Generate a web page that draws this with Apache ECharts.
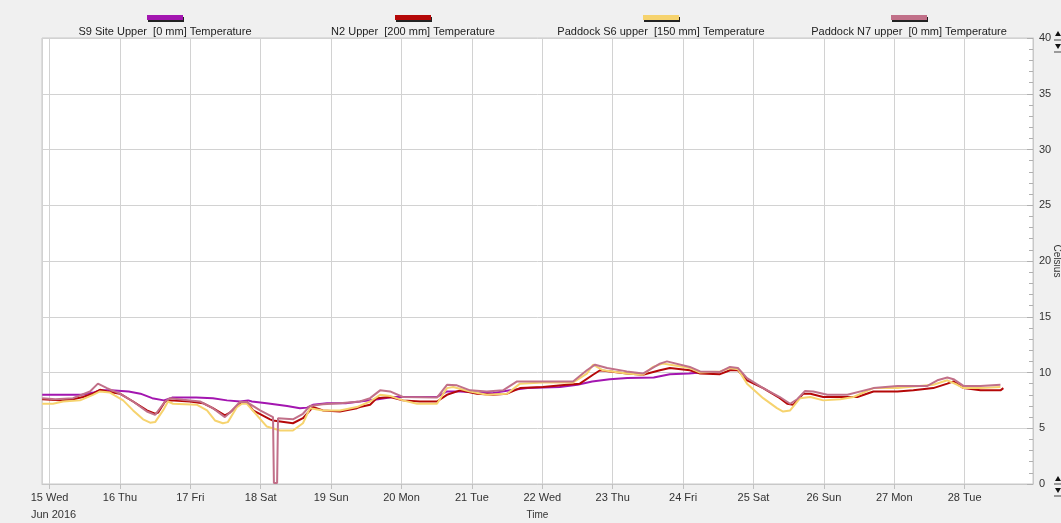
<!DOCTYPE html>
<html>
<head>
<meta charset="utf-8">
<script src="https://cdn.jsdelivr.net/npm/echarts@6/dist/echarts.min.js"></script>
<style>
html,body{margin:0;padding:0;background:#f0f0f0;}
#chart{width:1061px;height:523px;}
</style>
</head>
<body>
<div id="chart"></div>
<script>
// ---- data (hours from 15 Jun 2016 00:00, Celsius) ----
const seriesNames = [
  'S9 Site Upper  [0 mm] Temperature',
  'N2 Upper  [200 mm] Temperature',
  'Paddock S6 upper  [150 mm] Temperature',
  'Paddock N7 upper  [0 mm] Temperature'
];
const dayNames = ['Sun','Mon','Tue','Wed','Thu','Fri','Sat'];
const firstTickSubLabel = 'Jun 2016';

const s9 = [[-2.5,8.0],[3,8.0],[11,8.0],[15,8.2],[17,8.4],[21,8.4],[27,8.3],[31,8.1],[35,7.7],[39,7.5],[41.8,7.75],[50,7.75],[55.7,7.7],[60.5,7.5],[65,7.4],[67.7,7.5],[69,7.4],[74,7.25],[81,7.0],[85.4,6.8],[87.8,6.85],[89.8,7.1],[94.6,7.25],[101,7.25],[105.8,7.4],[112,7.6],[117,7.8],[122,7.8],[132,7.8],[135.5,8.3],[140,8.3],[146,8.2],[151,8.15],[157,8.4],[163,8.6],[174,8.7],[180,8.9],[185,9.2],[191,9.4],[197,9.5],[206,9.55],[211.5,9.85],[218,9.9],[222,10.0]];

const n2 = [[-2.5,7.6],[3.6,7.5],[8,7.6],[11.4,7.8],[14.8,8.1],[17.2,8.45],[19.6,8.3],[24,8.1],[28.5,7.4],[33.2,6.6],[36,6.3],[37,6.4],[39.4,7.4],[41.1,7.5],[47.9,7.4],[52.3,7.25],[55.7,6.8],[59.8,6.15],[61.5,6.4],[64.9,7.25],[67.3,7.35],[69.4,6.6],[75.2,5.8],[76.2,5.7],[83,5.45],[86.4,5.9],[89.8,6.9],[93.2,6.6],[99,6.5],[104.8,6.8],[105.8,6.9],[109.3,7.1],[111.6,7.7],[116.1,7.8],[120.5,7.5],[126.3,7.4],[132.1,7.4],[135.5,8.0],[140,8.4],[145.7,8.1],[151.2,8.0],[156,8.1],[160.4,8.6],[168.2,8.7],[176.4,8.9],[180.8,9.0],[185.3,9.8],[187.7,10.2],[191.1,10.1],[196.8,9.9],[202.3,9.8],[208.1,10.2],[211.5,10.4],[218.3,10.2],[221.8,9.9],[228.6,9.85],[232,10.2],[234.7,10.2],[237.8,9.3],[243.3,8.6],[249,7.7],[251.5,7.2],[253.5,7.1],[257,8.1],[259.4,8.1],[263.8,7.8],[269.6,7.8],[275.4,7.8],[280.9,8.3],[289.1,8.3],[294.5,8.4],[301.3,8.6],[306.1,9.0],[308.2,9.2],[311.6,8.6],[317.4,8.4],[324.2,8.4],[325.2,8.6]];

const s6 = [[-2.5,7.2],[1.2,7.2],[4.6,7.4],[10.4,7.5],[14.8,8.0],[17.2,8.3],[20.6,8.2],[25.1,7.5],[28.5,6.6],[31.9,5.8],[34.3,5.5],[36,5.55],[38.7,6.6],[40.4,7.4],[42.1,7.2],[50.3,7.1],[53.7,6.6],[56.4,5.7],[59.1,5.45],[60.8,5.55],[63.9,6.9],[65.6,7.2],[67.3,7.2],[74.1,5.15],[78.6,4.8],[83,4.8],[86.4,5.45],[88.8,6.8],[93.2,6.6],[99,6.6],[104.8,6.9],[109.3,7.4],[112.7,8.0],[116.1,7.9],[120.5,7.5],[125.3,7.2],[132.1,7.2],[135.5,8.6],[137.6,8.7],[143.4,8.3],[149.1,8.0],[156,8.1],[160.4,9.0],[168.2,9.1],[178.5,9.1],[183.2,9.9],[185.3,10.7],[188.7,10.2],[196.8,9.9],[202.3,9.8],[205.7,10.5],[209.1,10.8],[218.3,10.4],[221.8,10.0],[228.6,10.1],[232,10.4],[234.7,10.3],[237.8,9.0],[243.3,7.7],[248,6.8],[250.1,6.5],[252.5,6.6],[255.9,7.7],[259.4,7.8],[263.8,7.5],[269.6,7.6],[274.1,7.8],[280.9,8.6],[289.1,8.6],[301.3,8.9],[306.1,9.3],[309.5,8.9],[311.6,8.6],[317.4,8.6],[324.2,8.7]];

const n7 = [[-2.5,7.7],[2,7.6],[8,7.7],[13.8,8.3],[16.5,9.0],[19.6,8.6],[24,8.1],[28.5,7.4],[33.2,6.5],[36,6.2],[39.4,7.4],[41.1,7.7],[45.5,7.55],[51.3,7.4],[55.7,6.8],[59.8,6.0],[62.2,6.6],[64.9,7.35],[67.3,7.35],[71.8,6.6],[76.2,6.0],[76.5,0.1],[77.6,0.1],[77.9,5.9],[83,5.8],[86.4,6.3],[88.8,7.0],[93.2,7.15],[99,7.25],[105.8,7.4],[109.3,7.7],[112.7,8.4],[116.1,8.3],[120.5,7.8],[132.1,7.75],[135.5,8.9],[138.9,8.85],[143.4,8.4],[149.1,8.3],[154.6,8.4],[159.4,9.2],[178.5,9.2],[183.2,10.2],[186,10.7],[190.1,10.4],[196.8,10.1],[202.3,9.9],[208.1,10.8],[210.5,11.0],[218.3,10.5],[221.8,10.1],[228.6,10.05],[232,10.5],[234.7,10.4],[237.8,9.5],[243.3,8.6],[249,7.8],[252.5,7.2],[254.9,7.6],[257.6,8.35],[260.4,8.3],[265.2,8.0],[272,8.0],[280.9,8.6],[289.1,8.8],[299.3,8.8],[302.7,9.3],[306.1,9.55],[308.2,9.4],[311.6,8.8],[317.4,8.8],[324.2,8.9]];

const yTicks = {min: 0, max: 40, interval: 5};

// ---- build ----
const BASE = new Date(2016, 5, 15).getTime();
const H = 3600000;
const toTime = arr => arr.map(p => [BASE + p[0] * H, p[1]]);
const colors = ['#a316b0', '#b50808', '#f6d36e', '#c17089'];
const allData = [s9, n2, s6, n7];

const rich = {
  t: {width: 240, align: 'center', lineHeight: 16, fontSize: 11, color: '#222', fontFamily: 'Liberation Sans'}
};
colors.forEach((c, i) => {
  rich['b' + i] = {width: 36, height: 5, lineHeight: 12, align: 'center', backgroundColor: c,
    shadowColor: '#222', shadowOffsetX: 1, shadowOffsetY: 2, shadowBlur: 0, fontSize: 1};
});

// scroll-arrow decorations at the right edge
function tri(x, y, up) {
  return {type: 'polygon', silent: true,
    shape: {points: up ? [[x - 3, y + 3], [x + 3, y + 3], [x, y - 2]] : [[x - 3, y - 2], [x + 3, y - 2], [x, y + 3]]},
    style: {fill: '#111'}};
}
function dash(x, y) {
  return {type: 'line', silent: true, shape: {x1: x - 4, y1: y, x2: x + 4, y2: y}, style: {stroke: '#444', lineWidth: 1}};
}

const chart = echarts.init(document.getElementById('chart'));
chart.setOption({
  backgroundColor: '#f0f0f0',
  animation: false,
  textStyle: {fontFamily: 'Liberation Sans'},
  legend: {
    top: 15, left: 40, padding: 0, itemGap: 3,
    itemWidth: 0, itemHeight: 0, icon: 'rect',
    selectedMode: false,
    data: seriesNames,
    formatter: name => '{b' + seriesNames.indexOf(name) + '| }\n{t|' + name + '}',
    textStyle: {rich: rich}
  },
  graphic: [tri(1058, 33, true), dash(1058, 40), tri(1058, 46, false), dash(1058, 52),
            tri(1058, 478, true), dash(1058, 484), tri(1058, 490, false), dash(1058, 496)],
  grid: {left: 42, right: 28, top: 38, bottom: 39, outerBoundsMode: 'none', containLabel: false,
    show: true, backgroundColor: '#ffffff', borderColor: '#c8c8c8', borderWidth: 1},
  xAxis: {
    type: 'time',
    min: BASE - 2.56 * H,
    max: BASE + 335.3 * H,
    minInterval: 24 * H,
    maxInterval: 24 * H,
    name: 'Time',
    nameLocation: 'middle',
    nameGap: 26,
    nameMoveOverlap: false,
    nameTextStyle: {fontSize: 10, color: '#333'},
    axisLine: {show: true, lineStyle: {color: '#c8c8c8'}},
    axisTick: {show: true, length: 5, lineStyle: {color: '#c0c0c0'}},
    splitLine: {show: true, lineStyle: {color: '#d2d2d2', width: 1}},
    axisLabel: {
      margin: 5, fontSize: 11, color: '#333', lineHeight: 17,
      formatter: function (val) {
        const d = new Date(val);
        const s = d.getDate() + ' ' + dayNames[d.getDay()];
        if (d.getDate() === 15) return '{f|' + s + '}\n{g|' + firstTickSubLabel + '}';
        return s;
      },
      rich: {
        f: {fontSize: 11, color: '#333', lineHeight: 17},
        g: {fontSize: 11, color: '#333', lineHeight: 17, padding: [0, 0, 0, 8]}
      }
    }
  },
  yAxis: {
    type: 'value',
    position: 'right',
    min: yTicks.min, max: yTicks.max, interval: yTicks.interval,
    name: 'Celsius',
    nameLocation: 'middle',
    nameRotate: -90,
    nameGap: 19,
    nameMoveOverlap: false,
    nameTextStyle: {fontSize: 10, color: '#333'},
    axisLine: {show: true, lineStyle: {color: '#c8c8c8'}},
    axisTick: {show: true, inside: true, length: 6, lineStyle: {color: '#b0b0b0'}},
    minorTick: {show: true, splitNumber: 5, length: 4, lineStyle: {color: '#b0b0b0'}},
    splitLine: {show: true, lineStyle: {color: '#d2d2d2', width: 1}},
    axisLabel: {margin: 6, fontSize: 11, color: '#333'}
  },
  series: allData.map((d, i) => ({
    name: seriesNames[i],
    type: 'line',
    showSymbol: false,
    symbol: 'none',
    data: toTime(d),
    lineStyle: {color: colors[i], width: 2},
    itemStyle: {color: colors[i]},
    z: 2 + i
  }))
});
</script>
</body>
</html>
